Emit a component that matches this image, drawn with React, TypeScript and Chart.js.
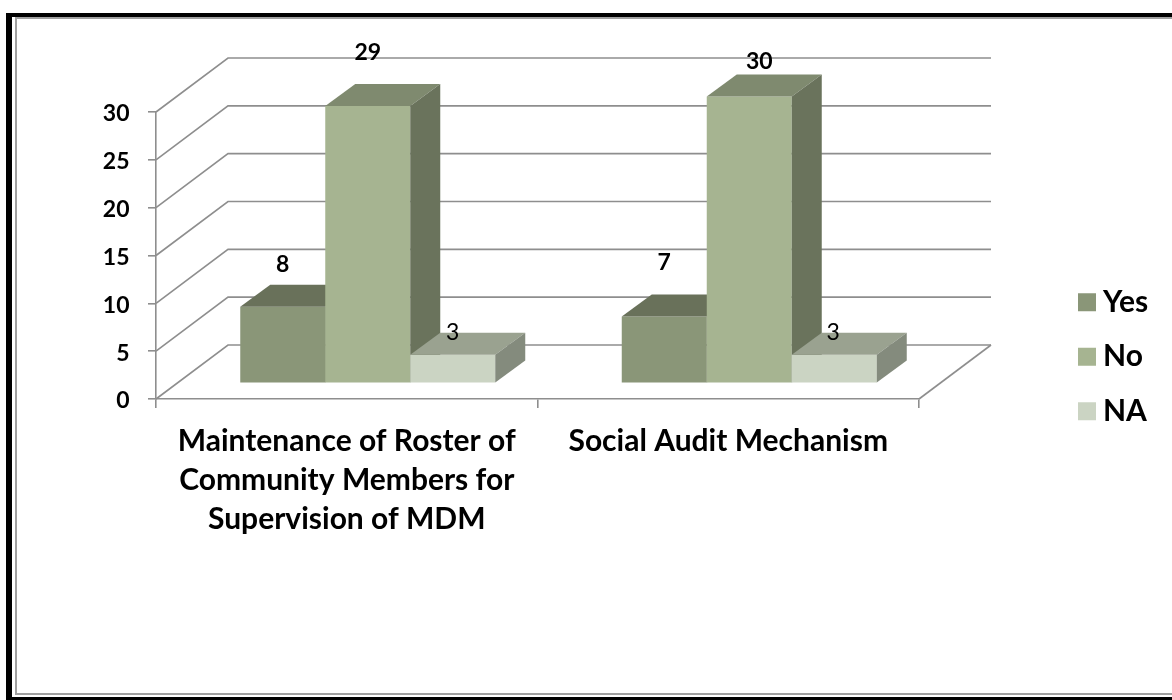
import React, { useEffect, useRef } from "react";
import { Chart, registerables } from "chart.js";

Chart.register(...registerables);

const categories = [
  ["Maintenance of Roster of", "Community Members for", "Supervision of MDM"],
  "Social Audit Mechanism",
];
const yesValues = [8, 7];
const noValues = [29, 30];
const naValues = [3, 3];

const FONT = "Lato, Carlito, Calibri, sans-serif";
const GRID = "#8e8e8e";

// Face colours per series: front, top, side
const faces = [
  { front: "#8a9678", top: "#69715a", side: "#69715a" },
  { front: "#a6b491", top: "#7f8a6f", side: "#6a735c" },
  { front: "#cbd4c3", top: "#9aa290", side: "#848b7d" },
];

// Perspective of the drawing
const WALL = { dx: 72, dy: -54 };
const BAR_DEPTH = { dx: 30, dy: -22 };
const BAR_SHIFT = { dx: 21, dy: -15.6 };
// Manual label placement, relative to the top centre of each bar's front face
const labelNudges = [
  [{ x: 0, y: -42.5 }, { x: 0, y: -53.5 }],
  [{ x: 0, y: -53.5 }, { x: 10, y: -34.5 }],
  [{ x: 0, y: -22.5 }, { x: -1, y: -22.5 }],
];

const framePlugin = {
  id: "frame",
  beforeDraw(chart: any) {
    const { ctx, width, height } = chart;
    ctx.save();
    ctx.fillStyle = "#ffffff";
    ctx.fillRect(0, 0, width, height);
    ctx.fillStyle = "#000000";
    ctx.fillRect(6, 13, width - 6, 4);
    ctx.fillRect(6, 13, 6, height - 13);
    ctx.fillRect(6, 697, width - 6, 3);
    ctx.fillStyle = "#a0a0a0";
    ctx.fillRect(15, 17, width - 15, 2);
    ctx.fillRect(15, 17, 2, 678);
    ctx.fillRect(15, 693, width - 15, 2);
    ctx.restore();
    // Pin the legend to the right-hand margin
    const legend = chart.legend;
    if (legend) {
      const pad = legend.options.labels.padding;
      legend.left = 1086 - pad;
      legend.right = width;
      legend.top = 287.3 - pad;
      legend.bottom = height;
    }
  },
};

const wallPlugin = {
  id: "wall",
  beforeDatasetsDraw(chart: any) {
    const { ctx, chartArea, scales } = chart;
    const { left, right } = chartArea;
    const y = scales.y;
    ctx.save();
    ctx.strokeStyle = GRID;
    ctx.lineWidth = 1.6;
    y.ticks.forEach((t: any) => {
      const py = y.getPixelForValue(t.value);
      ctx.beginPath();
      ctx.moveTo(left, py);
      ctx.lineTo(left + WALL.dx, py + WALL.dy);
      ctx.lineTo(right + WALL.dx, py + WALL.dy);
      ctx.stroke();
    });
    const py0 = y.getPixelForValue(0);
    ctx.beginPath();
    ctx.moveTo(right, py0);
    ctx.lineTo(right + WALL.dx, py0 + WALL.dy);
    ctx.stroke();
    ctx.restore();
  },
};

const bar3dPlugin = {
  id: "bar3d",
  // The default back-to-front order is the wrong way round for this view,
  // so the datasets are painted from Yes to NA below.
  beforeDatasetDraw() {
    return false;
  },
  afterDatasetsDraw(chart: any) {
    const { ctx } = chart;
    chart.data.datasets.forEach((_: any, i: number) => {
      const meta = chart.getDatasetMeta(i);
      const colors = faces[i];
      ctx.save();
      ctx.translate(BAR_SHIFT.dx, BAR_SHIFT.dy);
      meta.controller.draw();
      meta.data.forEach((bar: any) => {
        const l = bar.x - bar.width / 2;
        const r = bar.x + bar.width / 2;
        const t = bar.y;
        const b = bar.base;
        const { dx, dy } = BAR_DEPTH;
        ctx.fillStyle = colors.top;
        ctx.beginPath();
        ctx.moveTo(l, t);
        ctx.lineTo(l + dx, t + dy);
        ctx.lineTo(r + dx, t + dy);
        ctx.lineTo(r, t);
        ctx.closePath();
        ctx.fill();
        ctx.fillStyle = colors.side;
        ctx.beginPath();
        ctx.moveTo(r, t);
        ctx.lineTo(r + dx, t + dy);
        ctx.lineTo(r + dx, b + dy);
        ctx.lineTo(r, b);
        ctx.closePath();
        ctx.fill();
      });
      ctx.restore();
    });
    ctx.save();
    ctx.fillStyle = "#000000";
    ctx.textAlign = "center";
    ctx.textBaseline = "middle";
    chart.data.datasets.forEach((ds: any, i: number) => {
      ctx.font = `${i === 2 ? "normal" : "bold"} 23px ${FONT}`;
      chart.getDatasetMeta(i).data.forEach((bar: any, j: number) => {
        const n = labelNudges[i][j];
        ctx.fillText(String(ds.data[j]), bar.x + BAR_SHIFT.dx + n.x, bar.y + BAR_SHIFT.dy + n.y);
      });
    });
    ctx.restore();
  },
};

export default function App() {
  const ref = useRef<HTMLCanvasElement>(null);
  useEffect(() => {
    document.body.style.margin = "0";
    const chart = new Chart(ref.current as HTMLCanvasElement, {
      type: "bar",
      data: {
        labels: categories as any,
        datasets: [
          { label: "Yes", data: yesValues, backgroundColor: faces[0].front },
          { label: "No", data: noValues, backgroundColor: faces[1].front },
          { label: "NA", data: naValues, backgroundColor: faces[2].front },
        ],
      },
      options: {
        responsive: false,
        animation: false,
        clip: false as any,
        categoryPercentage: 255 / 381.5,
        barPercentage: 1,
        layout: { padding: { left: 0, top: 112, right: 253, bottom: 0 } },
        scales: {
          x: {
            grid: { drawOnChartArea: false, color: GRID, lineWidth: 1.6, tickLength: 9, offset: true },
            border: { color: GRID, width: 1.6 },
            ticks: {
              color: "#000000",
              font: { family: FONT, size: 30, weight: "bold", lineHeight: 1.3 },
              padding: 14,
              maxRotation: 0,
              minRotation: 0,
              autoSkip: false,
            },
            afterFit(scale: any) {
              scale.height = 301;
            },
          },
          y: {
            min: 0,
            max: 30,
            grid: { drawOnChartArea: false, color: GRID, lineWidth: 1.6, tickLength: 8 },
            border: { color: GRID, width: 1.6 },
            ticks: {
              stepSize: 5,
              color: "#000000",
              padding: 18.5,
              labelOffset: 2,
              font: { family: FONT, size: 23, weight: "bold" },
            },
            afterFit(scale: any) {
              scale.width = 156;
            },
          },
        },
        plugins: {
          title: { display: false },
          tooltip: { enabled: false },
          legend: {
            position: "chartArea" as any,
            align: "start",
            labels: {
              boxWidth: 2,
              boxHeight: 2,
              padding: 24.5,
              color: "#000000",
              font: { family: FONT, size: 30, weight: "bold" },
              generateLabels: (c: any) =>
                c.data.datasets.map((ds: any, i: number) => ({
                  text: ds.label,
                  datasetIndex: i,
                  fillStyle: ds.backgroundColor,
                  strokeStyle: ds.backgroundColor,
                  lineWidth: 16,
                  hidden: false,
                })),
            },
          },
        },
      } as any,
      plugins: [framePlugin, wallPlugin, bar3dPlugin],
    });
    return () => chart.destroy();
  }, []);
  return <canvas ref={ref} width={1172} height={700} style={{ display: "block" }} />;
}
